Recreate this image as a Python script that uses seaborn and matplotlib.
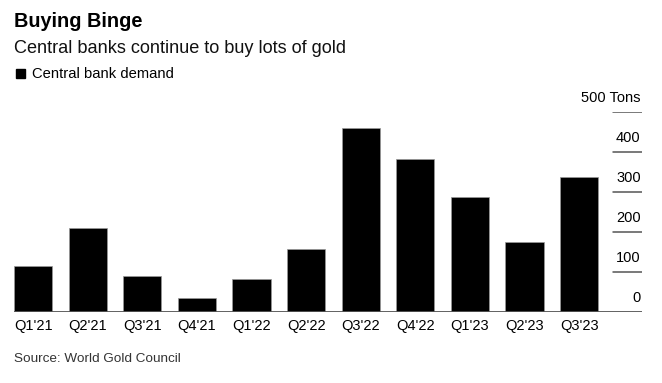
import matplotlib.pyplot as plt
import matplotlib.transforms as mtransforms
from matplotlib.patches import Rectangle
import pandas as pd
import seaborn as sns

quarters = ["Q1'21", "Q2'21", "Q3'21", "Q4'21", "Q1'22", "Q2'22",
            "Q3'22", "Q4'22", "Q1'23", "Q2'23", "Q3'23"]
demand = [116, 209, 91, 34, 82, 158, 459, 382, 286, 174, 337]
y_ticks = [0, 100, 200, 300, 400, 500]
y_labels = ["0", "100", "200", "300", "400", "500 Tons"]

sns.set_theme(style="white")
plt.rcParams["font.family"] = ["Liberation Sans", "DejaVu Sans"]

df = pd.DataFrame({"quarter": quarters, "demand": demand})

fig = plt.figure(figsize=(6.62, 3.83), dpi=100)
ax = fig.add_axes([14 / 662, 71 / 383, 628 / 662, 200.3 / 383])
sns.barplot(data=df, x="quarter", y="demand", color="black", width=0.7,
            edgecolor="#999999", linewidth=0.5, saturation=1, ax=ax)

ax.set_xlim(-0.35, 11.15)
ax.set_ylim(0, 500)
for s in ax.spines.values():
    s.set_visible(False)
ax.set_xlabel("")
ax.set_ylabel("")
ax.set_yticks([])
ax.tick_params(axis="x", length=0, pad=5, labelsize=10.5, labelcolor="black")

# baseline
ax.axhline(0, color="#555555", lw=1.3, zorder=3)
# short gridlines in the right label column
grid_x0 = (613 - 14) / 628
for v in y_ticks[1:]:
    ax.axhline(v, xmin=grid_x0, xmax=1, color="#555555", lw=1.1)
label_tr = ax.get_yaxis_transform() + mtransforms.ScaledTranslation(0, 9.5 / 100, fig.dpi_scale_trans)
for v, lab in zip(y_ticks, y_labels):
    ax.text(0.998, v, lab, transform=label_tr, ha="right", va="baseline",
            fontsize=10.5, color="black")

fig.text(14 / 662, 1 - 27 / 383, "Buying Binge", fontsize=14.3, fontweight="bold",
         va="baseline", ha="left", color="black")
fig.text(14 / 662, 1 - 53 / 383, "Central banks continue to buy lots of gold",
         fontsize=13.1, va="baseline", ha="left", color="#111111")
fig.patches.append(Rectangle((16 / 662, 1 - 78 / 383), 8.5 / 662, 9 / 383,
                             transform=fig.transFigure, color="black", figure=fig))
fig.text(32 / 662, 1 - 78 / 383, "Central bank demand", fontsize=10.6,
         va="baseline", ha="left", color="black")
fig.text(14 / 662, 1 - 362 / 383, "Source: World Gold Council", fontsize=9.7,
         va="baseline", ha="left", color="#333333")

fig.savefig("out.png", dpi=100, facecolor="white")
